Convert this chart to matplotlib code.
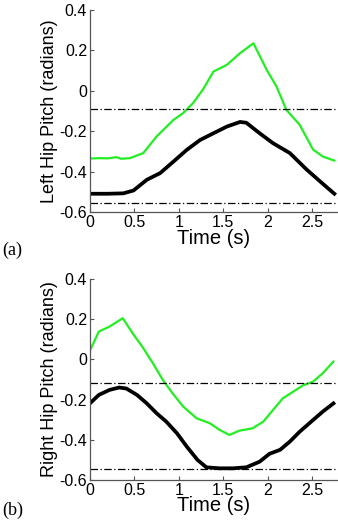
import matplotlib
matplotlib.use("Agg")
import matplotlib.pyplot as plt

plt.rcParams['font.family'] = ['Liberation Sans', 'DejaVu Sans']
plt.rcParams['axes.unicode_minus'] = False

# Top panel (a) - Left hip pitch
t_left_green = [0.0, 0.1, 0.2, 0.3, 0.35, 0.45, 0.6, 0.75, 0.94, 1.05, 1.16, 1.27, 1.39, 1.54, 1.69, 1.84,
                1.99, 2.1, 2.21, 2.36, 2.51, 2.62, 2.75]
y_left_green = [-0.335, -0.333, -0.334, -0.328, -0.336, -0.333, -0.308, -0.226, -0.144, -0.11, -0.061, 0.005,
                0.095, 0.128, 0.186, 0.235, 0.103, 0.021, -0.094, -0.168, -0.29, -0.325, -0.345]
t_left_black = [0.0, 0.2, 0.375, 0.49, 0.64, 0.79, 0.94, 1.09, 1.24, 1.39, 1.54, 1.69, 1.76, 1.91, 2.06,
                2.25, 2.44, 2.59, 2.75]
y_left_black = [-0.509, -0.509, -0.507, -0.493, -0.44, -0.407, -0.35, -0.292, -0.243, -0.21, -0.177, -0.154,
                -0.158, -0.21, -0.259, -0.308, -0.39, -0.448, -0.509]
left_limits = [-0.088, -0.555]

# Bottom panel (b) - Right hip pitch
t_right_green = [0.0, 0.1, 0.22, 0.37, 0.48, 0.59, 0.71, 0.82, 0.93, 1.05, 1.2, 1.35, 1.46, 1.57, 1.68, 1.83,
                 1.95, 2.06, 2.17, 2.29, 2.4, 2.51, 2.62, 2.74]
y_right_green = [0.043, 0.138, 0.163, 0.205, 0.13, 0.063, -0.02, -0.102, -0.169, -0.235, -0.293, -0.318,
                 -0.351, -0.376, -0.355, -0.343, -0.31, -0.252, -0.194, -0.16, -0.129, -0.111, -0.069, -0.011]
t_right_black = [0.0, 0.1, 0.22, 0.33, 0.41, 0.53, 0.64, 0.75, 0.86, 0.98, 1.09, 1.21, 1.31, 1.46, 1.61, 1.76,
                 1.91, 2.02, 2.14, 2.25, 2.36, 2.51, 2.62, 2.74]
y_right_black = [-0.219, -0.177, -0.152, -0.14, -0.145, -0.177, -0.219, -0.268, -0.31, -0.368, -0.434, -0.5,
                 -0.537, -0.542, -0.542, -0.537, -0.509, -0.47, -0.45, -0.409, -0.36, -0.302, -0.26, -0.219]
right_limits = [-0.116, -0.547]

x_ticks = [0, 0.5, 1, 1.5, 2, 2.5]
x_ticklabels = ['0', '0.5', '1', '1.5', '2', '2.5']
y_ticks = [-0.6, -0.4, -0.2, 0, 0.2, 0.4]
y_ticklabels = ['-0.6', '-0.4', '-0.2', '0', '0.2', '0.4']

fig = plt.figure(figsize=(3.38, 5.2), dpi=100)
ax1 = fig.add_axes([0.266, 0.592, 0.731, 0.389])
ax2 = fig.add_axes([0.266, 0.077, 0.731, 0.3865])

green = '#22ee22'

def style(ax, tg, yg, tb, yb, lims, ylabel):
    ax.plot(tg, yg, color=green, lw=1.6)
    ax.plot(tb, yb, color='black', lw=2.7)
    for v in lims:
        ax.axhline(v, color='black', lw=0.9, linestyle=(0, (6, 2, 1, 2)))
    ax.set_xlim(0, 2.78)
    ax.set_ylim(-0.6, 0.4)
    ax.set_xticks(x_ticks)
    ax.set_xticklabels(x_ticklabels)
    ax.set_yticks(y_ticks)
    ax.set_yticklabels(y_ticklabels)
    ax.spines['top'].set_visible(False)
    ax.spines['right'].set_visible(False)
    ax.spines['left'].set_linewidth(0.9)
    ax.spines['bottom'].set_linewidth(0.9)
    ax.spines['left'].set_color('#555555')
    ax.spines['bottom'].set_color('#555555')
    ax.tick_params(direction='in', length=3, labelsize=11.5, pad=2, color='#555555')
    ax.set_xlabel('Time (s)', fontsize=14.5, labelpad=-1)
    ax.set_ylabel(ylabel, fontsize=13, labelpad=1)

style(ax1, t_left_green, y_left_green, t_left_black, y_left_black, left_limits, 'Left Hip Pitch (radians)')
style(ax2, t_right_green, y_right_green, t_right_black, y_right_black, right_limits, 'Right Hip Pitch (radians)')

fig.text(0.008, 1 - 250 / 520, '(a)', fontsize=13, family='Liberation Serif', va='center')
fig.text(0.008, 0.001, '(b)', fontsize=13, family='Liberation Serif', va='bottom')

fig.savefig('out.png', dpi=100)
